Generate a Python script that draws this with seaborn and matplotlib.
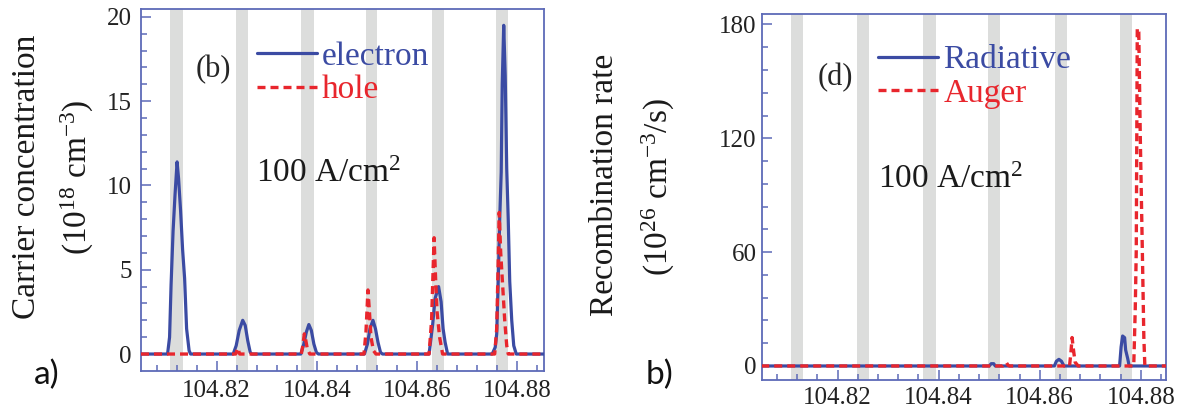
import matplotlib
matplotlib.use('Agg')
import matplotlib.pyplot as plt
import seaborn as sns
import pandas as pd
from matplotlib.ticker import MultipleLocator, FormatStrFormatter


# quantum well positions (gray bands)
well_lo = [104.8107, 104.8238, 104.8369, 104.8498, 104.8630, 104.8758]
well_hi = [104.8132, 104.8263, 104.8394, 104.8521, 104.8653, 104.8782]

# (b) carrier concentration, 1e18 cm^-3
electron_x = [104.8049,
              104.8102, 104.8106, 104.8109, 104.8113, 104.8117, 104.8121, 104.8124,
              104.8128, 104.8132, 104.8136, 104.8140, 104.8145, 104.8148,
              104.8233, 104.8239, 104.8245, 104.8252, 104.8257, 104.8262, 104.8267, 104.8270,
              104.8368, 104.8374, 104.8379, 104.8384, 104.8389, 104.8394, 104.8399, 104.8403,
              104.8495, 104.8501, 104.8506, 104.8512, 104.8517, 104.8522, 104.8527, 104.8531,
              104.8624, 104.8631, 104.8636, 104.8643, 104.8648, 104.8652, 104.8656, 104.8661,
              104.8750, 104.8756, 104.8759, 104.8762, 104.8765, 104.8768, 104.8770, 104.8773,
              104.8776, 104.8779, 104.8782, 104.8785, 104.8789, 104.8793, 104.8798,
              104.8854]
electron_y = [0,
              0, 1.0, 4.1, 7.3, 9.5, 11.4, 10.4, 8.5, 6.2, 4.5, 1.5, 0.2, 0,
              0, 0.5, 1.4, 2.0, 1.7, 0.8, 0.1, 0,
              0, 0.6, 1.3, 1.75, 1.4, 0.6, 0.1, 0,
              0, 0.6, 1.5, 2.0, 1.5, 0.7, 0.1, 0,
              0, 1.7, 3.3, 4.0, 3.1, 1.5, 0.7, 0,
              0, 0.4, 1.2, 4.3, 8.0, 10.8, 16.0, 19.5, 16.5, 11.0, 8.0, 4.3, 2.0, 0.5, 0,
              0]
hole_x = [104.8049,
          104.8238, 104.8242, 104.8246,
          104.8369, 104.8372, 104.8375, 104.8378, 104.8381, 104.8386,
          104.8494, 104.8498, 104.8502, 104.8505, 104.8508, 104.8513, 104.8518,
          104.8624, 104.8629, 104.8634, 104.8637, 104.8640, 104.8645, 104.8651,
          104.8755, 104.8759, 104.8762, 104.8764, 104.8767, 104.8771, 104.8775, 104.8779, 104.8782,
          104.8854]
hole_y = [0,
          0, 0.35, 0,
          0, 0.5, 1.2, 0.8, 0.3, 0,
          0, 1.3, 3.8, 2.5, 1.0, 0.2, 0,
          0, 2.0, 6.9, 4.5, 2.5, 1.0, 0,
          0, 1.5, 5.5, 8.4, 6.0, 4.0, 2.0, 0.5, 0,
          0]

# (d) recombination rate, 1e26 cm^-3/s
radiative_x = [104.8049,
               104.8500, 104.8504, 104.8509, 104.8512,
               104.8629, 104.8633, 104.8638, 104.8643, 104.8648,
               104.8758, 104.8761, 104.8764, 104.8768, 104.8770, 104.8774, 104.8777,
               104.8854]
radiative_y = [0, 0, 1.2, 1.2, 0, 0, 2.5, 3.5, 2.5, 0, 0, 10, 15.8, 14.9, 8.4, 4.0, 0, 0]
auger_x = [104.8049,
           104.8527, 104.8531, 104.8534, 104.8537, 104.8540,
           104.8659, 104.8662, 104.8664, 104.8667, 104.8670, 104.8673, 104.8676,
           104.8786, 104.8789, 104.8791, 104.8793, 104.8796, 104.8799, 104.8803, 104.8806, 104.8808,
           104.8854]
auger_y = [0, 0, 1.0, 1.8, 0.5, 0, 0, 8, 15, 8, 2, 1, 0, 0, 30, 61, 178, 176, 120, 61, 15, 0, 0]

x_ticks = [104.82, 104.84, 104.86, 104.88]
left_yticks = [0, 5, 10, 15, 20]
right_yticks = [0, 60, 120, 180]

BLUE = '#3b4ba3'
RED = '#e8262d'
BAND = '#dcdddc'
SPINE = '#5d6ab8'

sns.set_theme(style='ticks')
plt.rcParams['font.family'] = ['Liberation Serif', 'DejaVu Serif']
plt.rcParams['mathtext.fontset'] = 'custom'
plt.rcParams['mathtext.rm'] = 'Liberation Serif'
plt.rcParams['mathtext.it'] = 'Liberation Serif:italic'

fig = plt.figure(figsize=(11.83, 4.15), dpi=100)
ax1 = fig.add_axes([0.1192, 0.1067, 0.3409, 0.8708])
ax2 = fig.add_axes([0.6439, 0.0843, 0.3418, 0.8819])


def draw_panel(ax, xs, ys, labels, xlim, ylim, yticks, yminor, ypad, xpad):
    for lo, hi in zip(well_lo, well_hi):
        ax.axvspan(lo, hi, color=BAND, lw=0, zorder=0)
    df1 = pd.DataFrame({'x': xs[0], 'y': ys[0]})
    df2 = pd.DataFrame({'x': xs[1], 'y': ys[1]})
    sns.lineplot(data=df1, x='x', y='y', ax=ax, color=BLUE, lw=2.3, sort=False,
                 estimator=None, label=labels[0], zorder=3)
    sns.lineplot(data=df2, x='x', y='y', ax=ax, color=RED, lw=2.4, sort=False,
                 estimator=None, label=labels[1], zorder=4, linestyle=(0, (2.4, 1.5)))
    ax.set_xlim(*xlim)
    ax.set_ylim(*ylim)
    ax.set_xlabel('')
    ax.set_ylabel('')
    ax.set_xticks(x_ticks)
    ax.xaxis.set_major_formatter(FormatStrFormatter('%.2f'))
    ax.xaxis.set_minor_locator(MultipleLocator(0.004))
    ax.set_yticks(yticks)
    ax.yaxis.set_minor_locator(MultipleLocator(yminor))
    for s in ax.spines.values():
        s.set_color(SPINE)
        s.set_linewidth(1.3)
    ax.tick_params(which='both', direction='in', color=SPINE, width=1.1,
                   labelcolor='#222222', labelsize=18, top=False, right=False)
    ax.tick_params(which='major', length=7)
    ax.tick_params(which='minor', length=4)
    ax.tick_params(axis='y', pad=ypad)
    ax.tick_params(axis='x', pad=xpad)


draw_panel(ax1, [electron_x, hole_x], [electron_y, hole_y], ['electron', 'hole'],
           (104.8049, 104.8854), (-0.99, 20.45), left_yticks, 1, 6.5, 6.5)
draw_panel(ax2, [radiative_x, auger_x], [radiative_y, auger_y], ['Radiative', 'Auger'],
           (104.8050, 104.8850), (-7.4, 185.5), right_yticks, 12, 3.6, 4.8)

for ax, anchor in [(ax1, (0.2876, 0.912)), (ax2, (0.288, 0.916))]:
    h, l = ax.get_legend_handles_labels()
    ax.legend(h, l, loc='upper left', bbox_to_anchor=anchor, frameon=False,
              fontsize=24, handlelength=1.8, handletextpad=0.15, borderpad=0,
              borderaxespad=0, labelspacing=0.1, labelcolor='linecolor')

ax1.text(0.1785, 0.832, '(b)', transform=ax1.transAxes, ha='center', va='center', fontsize=22)
ax2.text(0.181, 0.825, '(d)', transform=ax2.transAxes, ha='center', va='center', fontsize=22)
ax1.text(0.466, 0.522, '100 A/cm$^2$', transform=ax1.transAxes, ha='center',
         va='baseline', fontsize=24, color='#1a1a1a')
ax2.text(0.468, 0.525, '100 A/cm$^2$', transform=ax2.transAxes, ha='center',
         va='baseline', fontsize=24, color='#1a1a1a')

# y-axis titles, two lines each
ylab = dict(rotation=90, rotation_mode='anchor', ha='center', va='baseline',
            fontsize=24, color='#1a1a1a')
fig.text(35 / 1183, 1 - 177 / 415, 'Carrier concentration', **ylab)
fig.text(87 / 1183, 1 - 177 / 415, '(10$^{18}$ cm$^{-3}$)', **ylab)
fig.text(613 / 1183, 1 - 185 / 415, 'Recombination rate', **ylab)
fig.text(668 / 1183, 1 - 187 / 415, '(10$^{26}$ cm$^{-3}$/s)', **ylab)

# panel tags
fig.text(47 / 1183, 1 - 375 / 415, 'a)', ha='center', va='center', fontsize=24,
         family=['Lato', 'DejaVu Sans'], color='#111111')
fig.text(660 / 1183, 1 - 375 / 415, 'b)', ha='center', va='center', fontsize=24,
         family=['Lato', 'DejaVu Sans'], color='#111111')

fig.savefig('out.png', dpi=100)
